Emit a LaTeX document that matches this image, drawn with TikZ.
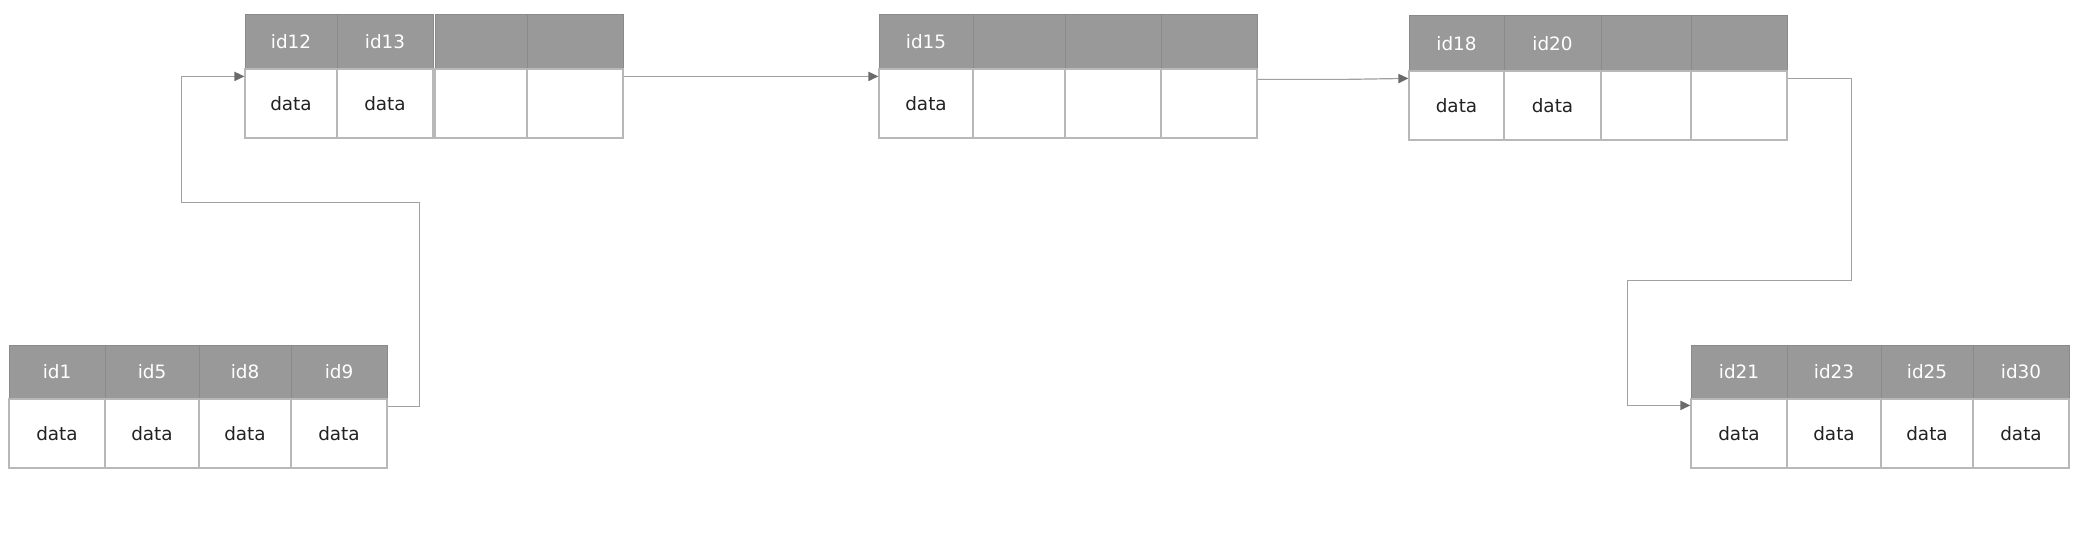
\documentclass[tikz,border=0pt]{standalone}
\usepackage{fontspec}
\setmainfont{DejaVu Sans}
\usetikzlibrary{arrows.meta}
\definecolor{hdrfill}{HTML}{999999}
\definecolor{hdrline}{HTML}{8A8A8A}
\definecolor{cellline}{HTML}{B8B8B8}
\definecolor{txtdark}{HTML}{222222}
\definecolor{connline}{HTML}{A0A0A0}
\definecolor{tipcol}{HTML}{6A6A6A}
\newcommand\cellbox[7]{%
  \pgfmathsetmacro\cw{(#3-#2)*0.5}%
  \pgfmathsetmacro\ch{(#5-#4)*0.5}%
  \node[#6, minimum width=\cw pt, minimum height=\ch pt] (#1) at ({(#2+#3)/2},{(#4+#5)/2}) {#7};}
\tikzset{
  hdr/.style={rectangle, inner sep=0pt, fill=hdrfill, draw=hdrline, line width=0.5pt, text=white,
    font=\fontsize{9.2}{11}\selectfont},
  dat/.style={rectangle, inner sep=0pt, fill=white, draw=cellline, line width=0.6pt, text=txtdark,
    font=\fontsize{9.2}{11}\selectfont},
  conn/.style={draw=connline, line width=0.6pt,
    -{Triangle[length=5pt,width=4.6pt,color=tipcol,fill=tipcol]}}
}
\begin{document}
\begin{tikzpicture}[x=0.5pt,y=-0.5pt]
\useasboundingbox[fill=white] (0,0) rectangle (2076,534);
% block A
\cellbox{a1h}{9}{105}{345}{399}{hdr}{id1}
\cellbox{a2h}{105}{199}{345}{399}{hdr}{id5}
\cellbox{a3h}{199}{291}{345}{399}{hdr}{id8}
\cellbox{a4h}{291}{387}{345}{399}{hdr}{id9}
\cellbox{a1d}{9}{105}{399}{468}{dat}{data}
\cellbox{a2d}{105}{199}{399}{468}{dat}{data}
\cellbox{a3d}{199}{291}{399}{468}{dat}{data}
\cellbox{a4d}{291}{387}{399}{468}{dat}{data}
% block B
\cellbox{b1h}{245}{337}{15}{69}{hdr}{id12}
\cellbox{b2h}{337}{433}{15}{69}{hdr}{id13}
\cellbox{b3h}{435}{527}{15}{69}{hdr}{}
\cellbox{b4h}{527}{623}{15}{69}{hdr}{}
\cellbox{b1d}{245}{337}{69}{138}{dat}{data}
\cellbox{b2d}{337}{433}{69}{138}{dat}{data}
\cellbox{b3d}{435}{527}{69}{138}{dat}{}
\cellbox{b4d}{527}{623}{69}{138}{dat}{}
% block C
\cellbox{c1h}{879}{973}{15}{69}{hdr}{id15}
\cellbox{c2h}{973}{1065}{15}{69}{hdr}{}
\cellbox{c3h}{1065}{1161}{15}{69}{hdr}{}
\cellbox{c4h}{1161}{1257}{15}{69}{hdr}{}
\cellbox{c1d}{879}{973}{69}{138}{dat}{data}
\cellbox{c2d}{973}{1065}{69}{138}{dat}{}
\cellbox{c3d}{1065}{1161}{69}{138}{dat}{}
\cellbox{c4d}{1161}{1257}{69}{138}{dat}{}
% block D
\cellbox{d1h}{1409}{1504}{16}{71}{hdr}{id18}
\cellbox{d2h}{1504}{1601}{16}{71}{hdr}{id20}
\cellbox{d3h}{1601}{1691}{16}{71}{hdr}{}
\cellbox{d4h}{1691}{1787}{16}{71}{hdr}{}
\cellbox{d1d}{1409}{1504}{71}{140}{dat}{data}
\cellbox{d2d}{1504}{1601}{71}{140}{dat}{data}
\cellbox{d3d}{1601}{1691}{71}{140}{dat}{}
\cellbox{d4d}{1691}{1787}{71}{140}{dat}{}
% block E
\cellbox{e1h}{1691}{1787}{345}{399}{hdr}{id21}
\cellbox{e2h}{1787}{1881}{345}{399}{hdr}{id23}
\cellbox{e3h}{1881}{1973}{345}{399}{hdr}{id25}
\cellbox{e4h}{1973}{2069}{345}{399}{hdr}{id30}
\cellbox{e1d}{1691}{1787}{399}{468}{dat}{data}
\cellbox{e2d}{1787}{1881}{399}{468}{dat}{data}
\cellbox{e3d}{1881}{1973}{399}{468}{dat}{data}
\cellbox{e4d}{1973}{2069}{399}{468}{dat}{data}
% connectors
\draw[conn] ([yshift=-4pt]a4d.north east) -- ++(32,0) -- ++(0,-204) -- ++(-238,0) |- ([yshift=-4pt]b1d.north west);
\draw[conn] ([yshift=-4pt]b4d.north east) -- ([yshift=-4pt]c1d.north west);
\draw[conn] ([yshift=-5.5pt]c4d.north east) -- ++(88,0) -- ([yshift=-4pt]d1d.north west);
\draw[conn] ([yshift=-4pt]d4d.north east) -- ++(64,0) -- ++(0,202) -- ++(-224,0) |- ([yshift=-3.5pt]e1d.north west);
\end{tikzpicture}
\end{document}
